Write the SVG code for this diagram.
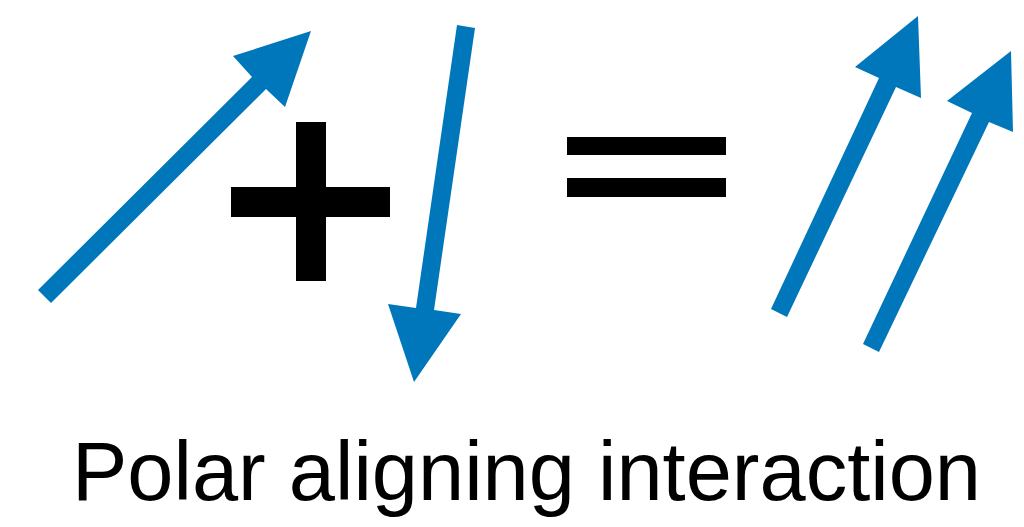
<svg xmlns="http://www.w3.org/2000/svg" width="1024" height="527" viewBox="0 0 1024 527">
  <style>
    .arrow { fill: #0077bb; }
    .sym { fill: #000000; }
    .label { font-family: "Liberation Sans", Arial, sans-serif; font-size: 83px; fill: #000000; }
  </style>
  <rect width="1024" height="527" fill="#ffffff"/>
  <g id="arrow-left">
    <polygon class="arrow" points="38,290 252,77 233,56 311,31 285,107 266,89 51,303"/>
  </g>
  <g id="plus">
    <rect class="sym" x="231" y="187" width="159" height="30"/>
    <rect class="sym" x="296" y="122" width="30" height="159"/>
  </g>
  <g id="arrow-down">
    <polygon class="arrow" points="457,25 475,28 434,310 461,314 414,382 388,304 416,308"/>
  </g>
  <g id="equals">
    <rect class="sym" x="567" y="137" width="159" height="18"/>
    <rect class="sym" x="567" y="178" width="159" height="19"/>
  </g>
  <g id="arrow-up-1">
    <polygon class="arrow" points="771,309 879,78 855,67 918,16 921,98 896,87 787,317"/>
  </g>
  <g id="arrow-up-2">
    <polygon class="arrow" points="863,344 972,113 947,101 1011,51 1013,132 989,122 879,352"/>
  </g>
  <g id="connectors"></g>
  <text class="label" x="72" y="500">Polar aligning interaction</text>
</svg>
